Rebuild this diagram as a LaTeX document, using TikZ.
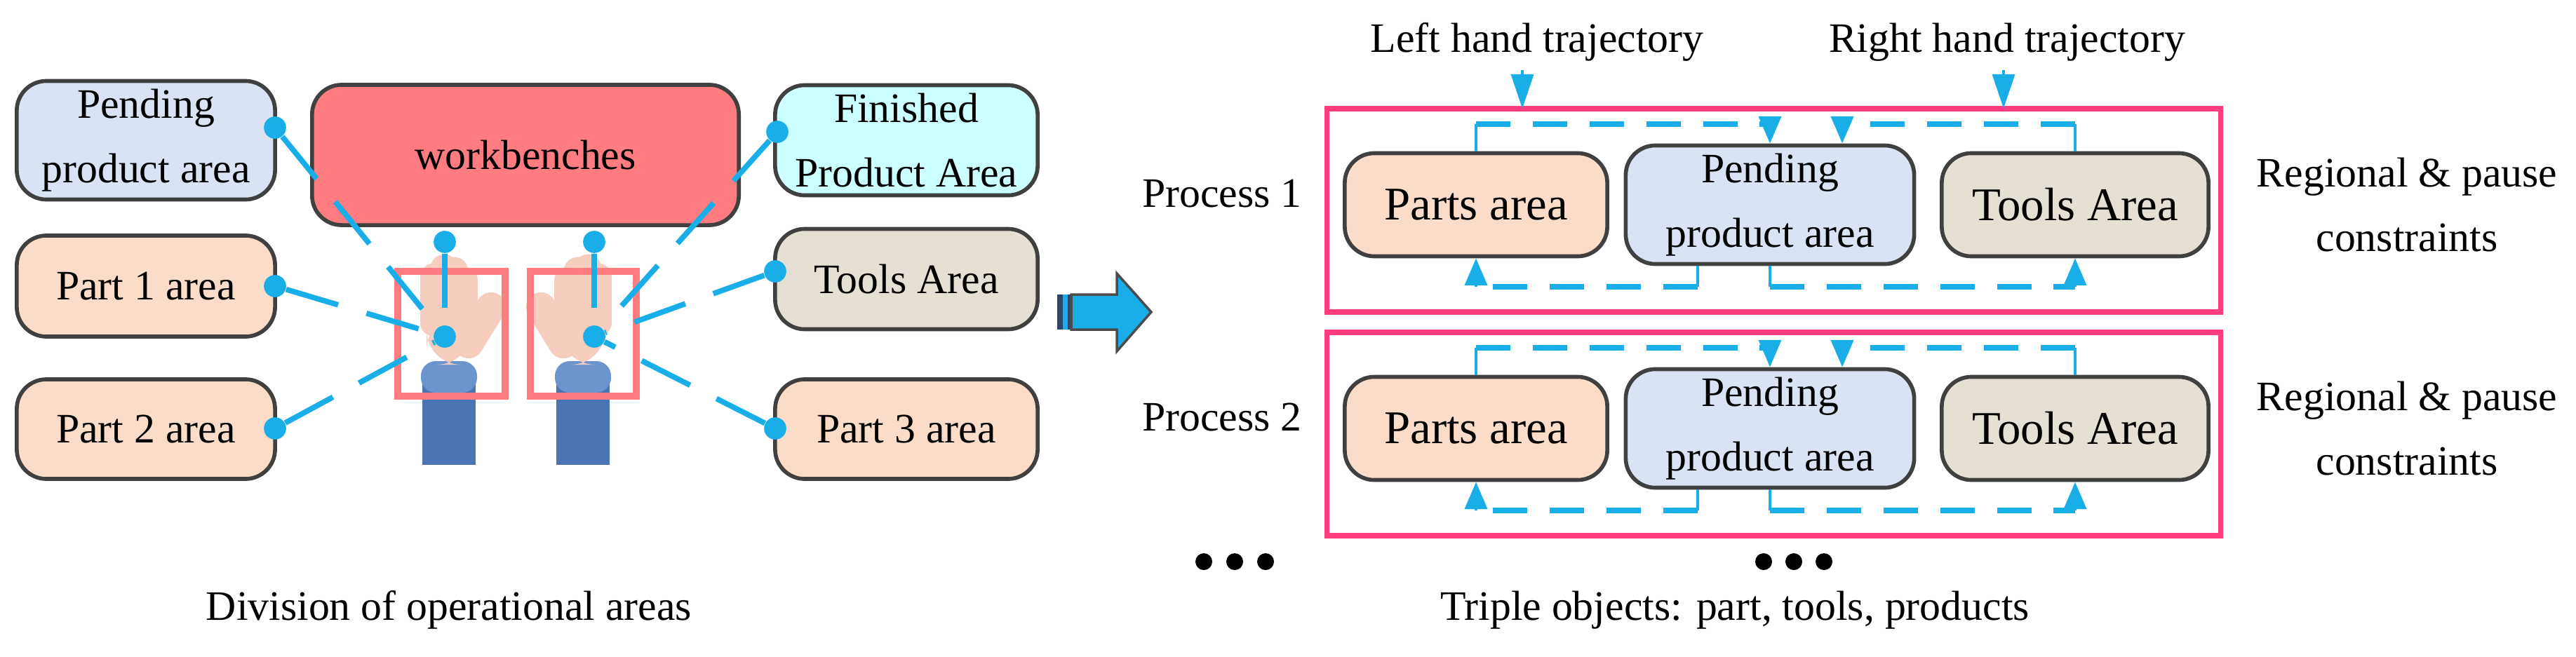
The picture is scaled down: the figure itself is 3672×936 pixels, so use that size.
\documentclass[tikz,border=0pt]{standalone}
\usepackage{fontspec}
\setmainfont{Liberation Serif}
\usetikzlibrary{arrows.meta}
\definecolor{pendblue}{HTML}{DAE3F3}
\definecolor{benchred}{HTML}{FF7C80}
\definecolor{fincyan}{HTML}{CCFFFF}
\definecolor{partpeach}{HTML}{FBDCC8}
\definecolor{toolgray}{HTML}{E6E0D4}
\definecolor{trajblue}{HTML}{1AAEE8}
\definecolor{procpink}{HTML}{FF3C7E}
\definecolor{sleeve}{HTML}{4A74B4}
\definecolor{cuff}{HTML}{6B93CC}
\definecolor{skin}{HTML}{F6CDBE}
\tikzset{
  area/.style={rectangle, rounded corners=12pt, draw=black!75, line width=1.6pt, align=center, font=\fontsize{17}{26}\selectfont},
  bigarea/.style={area, font=\fontsize{19}{28}\selectfont},
  link/.style={trajblue, line width=2.2pt, dash pattern=on 22pt off 12pt},
  tip/.style={circle, fill=trajblue, inner sep=0pt, minimum size=9pt},
  traj/.style={trajblue, line width=1.4pt},
  trajd/.style={trajblue, line width=2pt, dash pattern=on 14pt off 9pt},
  lbl/.style={font=\fontsize{17}{26}\selectfont, align=center}
}
\begin{document}
\begin{tikzpicture}[x=0.01cm, y=-0.01cm]
  \useasboundingbox (0,0) rectangle (3672,936);

  % Left part: areas
  \node[area, fill=pendblue, minimum width=3.68cm, minimum height=1.57cm] (pend) at (208,200) {Pending\\product area};
  \node[area, fill=benchred, minimum width=6.08cm, minimum height=2.0cm] (bench) at (749,221) {workbenches};
  \node[area, fill=fincyan, minimum width=3.74cm, minimum height=1.57cm] (fin) at (1292,200) {Finished\\Product Area};
  \node[area, fill=partpeach, minimum width=3.68cm, minimum height=1.44cm] (part1) at (208,408) {Part 1 area};
  \node[area, fill=toolgray, minimum width=3.74cm, minimum height=1.43cm] (tools) at (1292,398) {Tools Area};
  \node[area, fill=partpeach, minimum width=3.68cm, minimum height=1.42cm] (part2) at (208,612) {Part 2 area};
  \node[area, fill=partpeach, minimum width=3.74cm, minimum height=1.42cm] (part3) at (1292,612) {Part 3 area};

  % Hands
  \foreach \hx/\side in {640/1, 831/-1} {
    \fill[sleeve] (\hx-38,545) rectangle (\hx+38,663);
    \fill[cuff, rounded corners=6pt] (\hx-40,515) rectangle (\hx+40,560);
    \fill[skin, rounded corners=14pt] (\hx-32,450) rectangle (\hx+32,520);
    \foreach \fx/\ft in {-22/395, -7/382, 8/386, 22/400}
      \draw[skin, line width=11pt, line cap=round] (\hx+\side*\fx,460) -- (\hx+\side*\fx,\ft);
    \draw[skin, line width=12pt, line cap=round] (\hx+\side*28,490) -- (\hx+\side*60,438);
  }
  \draw[benchred, line width=3pt] (567,387) rectangle (720,565);
  \draw[benchred, line width=3pt] (756,387) rectangle (907,565);

  \node[tip] (lh) at (634,480) {};
  \node[tip] (rh) at (847,480) {};
  \node[tip] (dpend) at (392,182) {};
  \node[tip] (dbenchl) at (634,345) {};
  \node[tip] (dpart1) at (392,408) {};
  \node[tip] (dpart2) at (392,611) {};
  \node[tip] (dfin) at (1108,188) {};
  \node[tip] (dbenchr) at (847,345) {};
  \node[tip] (dtools) at (1105,387) {};
  \node[tip] (dpart3) at (1105,611) {};
  \foreach \a in {dpend, dbenchl, dpart1, dpart2}
    \draw[link] (\a) -- (lh);
  \foreach \a in {dfin, dbenchr, dtools, dpart3}
    \draw[link] (\a) -- (rh);

  \node[lbl] (cap1) at (640,870) {Division of operational areas};

  % Big arrow
  \fill[sleeve!60!black] (1507,420) rectangle (1515,470);
  \fill[trajblue] (1515,420) rectangle (1522,470);
  \fill[sleeve!60!black] (1522,420) rectangle (1527,470);
  \draw[black!70, line width=1pt, fill=trajblue] (1527,420) -- (1592,420) -- (1592,390) -- (1641,445) -- (1592,501) -- (1592,470) -- (1527,470) -- cycle;

  % Processes
  \foreach \n/\oy in {1/0, 2/319} {
    \begin{scope}[yshift=-\oy*0.01cm]
      \draw[procpink, line width=2pt] (1891,155) rectangle (3165,445);
      \node[bigarea, fill=partpeach, minimum width=3.74cm, minimum height=1.47cm] (parts\n) at (2104,292) {Parts area};
      \node[area, fill=pendblue, minimum width=4.11cm, minimum height=1.47cm] (pending\n) at (2523,292) {Pending\\product area};
      \node[bigarea, fill=toolgray, minimum width=3.80cm, minimum height=1.47cm] (tarea\n) at (2958,292) {Tools Area};
      \node[lbl] (proc\n) at (1742,276) {Process \n};
      \node[lbl] (reg\n) at (3431,292) {Regional \& pause\\constraints};
      \coordinate (lt\n) at (parts\n.north |- 0,177);
      \coordinate (lm\n) at (pending\n.north |- 0,177);
      \coordinate (rt\n) at (tarea\n.north |- 0,177);
      \coordinate (rm\n) at ([xshift=1.03cm]pending\n.north |- 0,177);
      \draw[traj] (parts\n.north) -- (lt\n);
      \draw[trajd] (lt\n) -- (lm\n);
      \draw[traj, -{Triangle[width=9pt,length=11pt]}] (lm\n) -- (pending\n.north);
      \draw[traj] (tarea\n.north) -- (rt\n);
      \draw[trajd] (rt\n) -- (rm\n);
      \draw[traj, -{Triangle[width=9pt,length=11pt]}] (rm\n) -- ([xshift=1.03cm]pending\n.north);
      \coordinate (lb\n) at ([xshift=-1.03cm]pending\n.south |- 0,409);
      \coordinate (pb\n) at (parts\n.south |- 0,409);
      \coordinate (mb\n) at (pending\n.south |- 0,409);
      \coordinate (tb\n) at (tarea\n.south |- 0,409);
      \draw[traj] ([xshift=-1.03cm]pending\n.south) -- (lb\n);
      \draw[trajd] (lb\n) -- (pb\n);
      \draw[traj, -{Triangle[width=9pt,length=11pt]}] (pb\n) -- (parts\n.south);
      \draw[traj] (pending\n.south) -- (mb\n);
      \draw[trajd] (mb\n) -- (tb\n);
      \draw[traj, -{Triangle[width=9pt,length=11pt]}] (tb\n) -- (tarea\n.south);
    \end{scope}
  }

  \node[lbl] (lht) at (2191,60) {Left hand trajectory};
  \node[lbl] (rht) at (2861,60) {Right hand trajectory};
  \coordinate (lhin) at (2170,155);
  \coordinate (rhin) at (2856,155);
  \draw[traj, -{Triangle[width=9pt,length=14pt]}] (lht.south -| lhin) -- (lhin);
  \draw[traj, -{Triangle[width=9pt,length=14pt]}] (rht.south -| rhin) -- (rhin);

  % Dots and caption
  \foreach \dx in {1716,1760,1804,2514,2557,2600}
    \fill (\dx,801) circle[radius=0.12cm];
  \node[lbl] (cap2) at (2473,870) {Triple objects: part, tools, products};
\end{tikzpicture}
\end{document}
